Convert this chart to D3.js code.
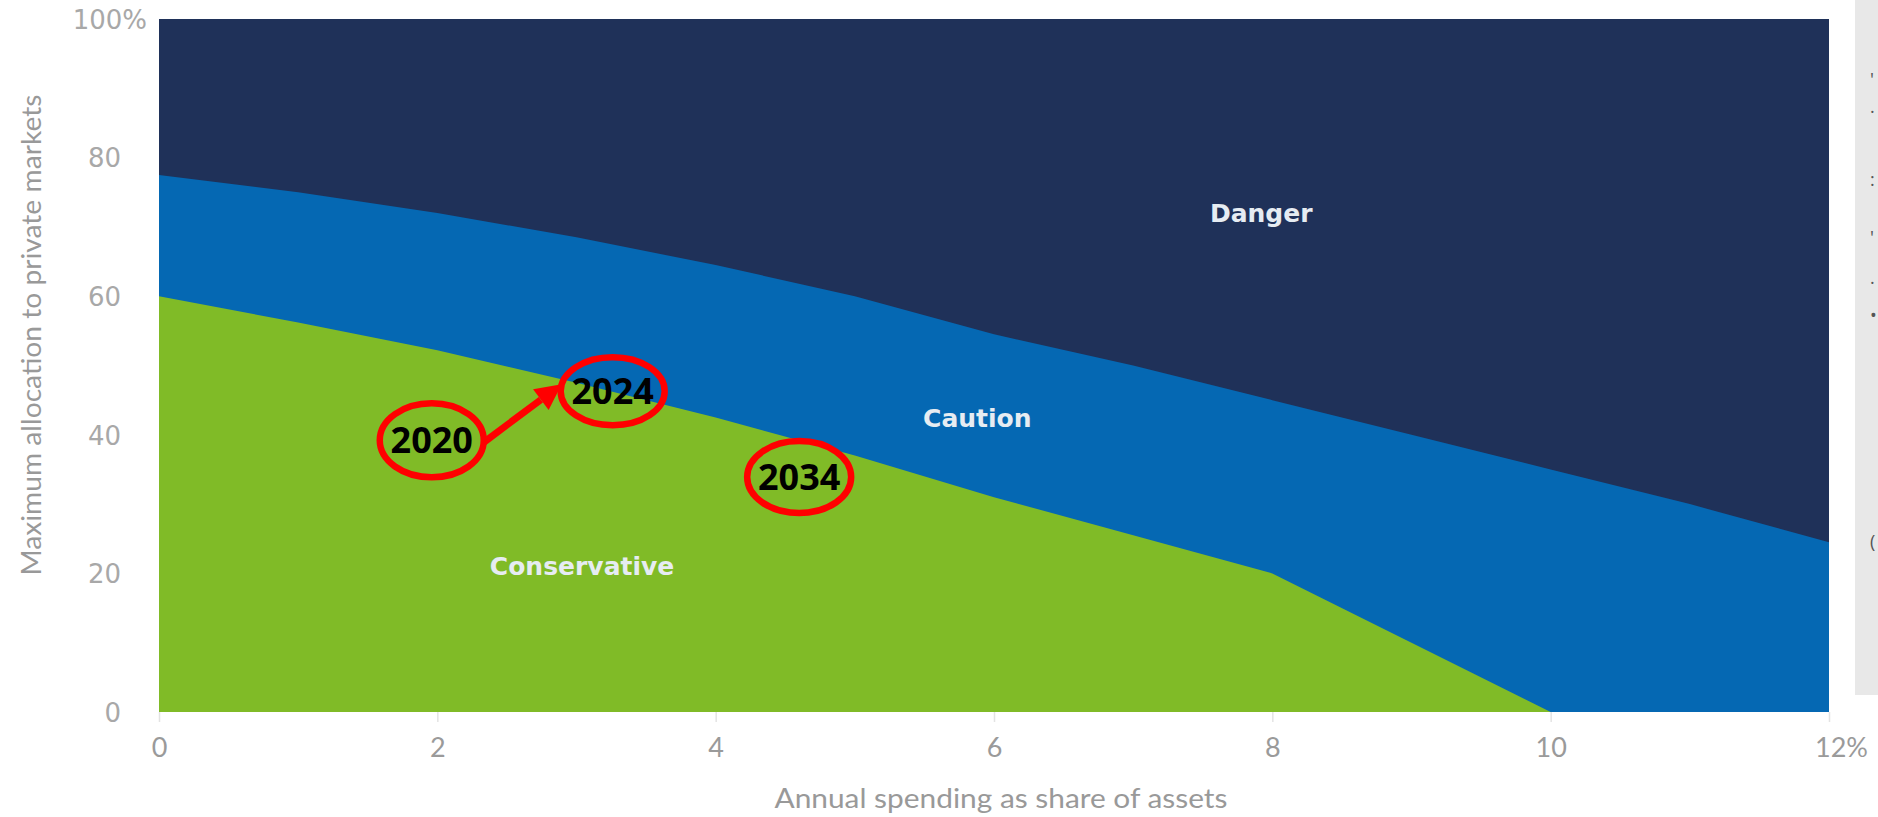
<!DOCTYPE html>
<html>
<head>
<meta charset="utf-8">
<script src="https://cdn.jsdelivr.net/npm/d3@7"></script>
<style>
  html, body { margin: 0; padding: 0; background: #fff; }
  svg { display: block; }
</style>
</head>
<body>
<svg id="chart" width="1878" height="817"></svg>
<script>
// ---- data ----
const spending = [0, 1, 2, 3, 4, 5, 6, 7, 8, 9, 10, 11, 12];            // % of assets
const conservativeMax = [60, 56.2, 52.2, 47.5, 42.5, 37, 31, 25.5, 20, 10, 0, 0, 0];
const cautionMax = [77.5, 75, 72, 68.5, 64.5, 60, 54.5, 50, 45, 40, 35, 30, 24.5];
const dangerMax = [100, 100, 100, 100, 100, 100, 100, 100, 100, 100, 100, 100, 100];
const xTicks = [0, 2, 4, 6, 8, 10, 12];
const yTicks = [0, 20, 40, 60, 80, 100];
const zoneLabels = ["Danger", "Caution", "Conservative"];
const zoneLabelPos = [[7.92, 72], [5.88, 42.4], [3.04, 21]];
const yearLabels = ["2020", "2024", "2034"];
const yearPos = [[1.96, 39.2], [3.26, 46.3], [4.6, 33.9]];

// ---- layout ----
const svg = d3.select("#chart");
const x = d3.scaleLinear().domain([0, 12]).range([159, 1829]);
const y = d3.scaleLinear().domain([0, 100]).range([712, 19]);

// right grey panel (cropped page edge)
svg.append("rect").attr("x", 1855).attr("y", 0).attr("width", 30).attr("height", 695).attr("fill", "#e8e8e8");
const frag = [["'", 86], ["·", 118], [":", 186], ["'", 244], [".", 284], ["•", 322], ["(", 548]];
svg.append("g").selectAll("text").data(frag).join("text")
  .attr("x", 1870).attr("y", d => d[1]).text(d => d[0])
  .attr("font-family", "Open Sans").attr("font-size", 18).attr("fill", "#555");

// cumulative bands drawn back to front (each filled from 0 up to its upper bound)
const layers = [
  { hi: dangerMax, color: "#1f3159" },
  { hi: cautionMax, color: "#0568b3" },
  { hi: conservativeMax, color: "#80bb27" }
];
const area = hi => d3.area()
  .x((d, i) => x(spending[i]))
  .y0(() => y(0))
  .y1((d, i) => y(hi[i]))
  .curve(d3.curveLinear)(spending);
svg.append("g").selectAll("path").data(layers).join("path")
  .attr("d", d => area(d.hi))
  .attr("fill", d => d.color);

// ---- axes ----
const xAxis = svg.append("g").attr("transform", `translate(0,${y(0)})`)
  .call(d3.axisBottom(x).tickValues(xTicks).tickSize(10).tickPadding(16)
    .tickFormat(d => d === 12 ? "12%" : d));
xAxis.select(".domain").remove();
xAxis.selectAll("line").attr("stroke", "#e3e3e3").attr("stroke-width", 1.5);
xAxis.selectAll("text").attr("font-family", "Lato, 'Open Sans', sans-serif")
  .attr("font-size", 27).attr("fill", "#9a9a9a")
  .attr("dx", d => d === 12 ? 12 : 0);

const yAxis = svg.append("g").attr("transform", `translate(121,0)`)
  .call(d3.axisLeft(y).tickValues(yTicks).tickSize(0).tickPadding(0)
    .tickFormat(d => d === 100 ? "100%" : d));
yAxis.select(".domain").remove();
yAxis.selectAll("text").attr("font-family", "'DejaVu Sans', sans-serif")
  .attr("font-size", 26).attr("fill", "#a8a8a8")
  .attr("dx", d => d === 100 ? 26 : 0).attr("dy", "0.36em");

svg.append("text").attr("x", 1001).attr("y", 808).attr("text-anchor", "middle")
  .attr("font-family", "Lato, sans-serif").attr("font-size", 26).attr("fill", "#999")
  .attr("textLength", 453).attr("lengthAdjust", "spacingAndGlyphs")
  .text("Annual spending as share of assets");
svg.append("text").attr("transform", "translate(41,335) rotate(-90)").attr("text-anchor", "middle")
  .attr("font-family", "Lato, sans-serif").attr("font-size", 26).attr("fill", "#999")
  .attr("textLength", 481).attr("lengthAdjust", "spacingAndGlyphs")
  .text("Maximum allocation to private markets");

// ---- zone labels ----
svg.append("g").selectAll("text").data(zoneLabels).join("text")
  .attr("x", (d, i) => x(zoneLabelPos[i][0])).attr("y", (d, i) => y(zoneLabelPos[i][1]))
  .attr("text-anchor", "middle").attr("dy", "0.35em")
  .attr("font-family", "'DejaVu Sans', sans-serif").attr("font-weight", 700)
  .attr("font-size", 25).attr("fill", "#e6ecf2")
  .text(d => d);

// ---- annotations ----
const ann = svg.append("g");
ann.selectAll("ellipse").data(yearLabels).join("ellipse")
  .attr("cx", (d, i) => x(yearPos[i][0])).attr("cy", (d, i) => y(yearPos[i][1]))
  .attr("rx", 52).attr("ry", (d, i) => [37, 34, 36][i])
  .attr("fill", "none").attr("stroke", "#ff0000").attr("stroke-width", 6.5);
ann.selectAll("text").data(yearLabels).join("text")
  .attr("x", (d, i) => x(yearPos[i][0])).attr("y", (d, i) => y(yearPos[i][1]))
  .attr("text-anchor", "middle").attr("dy", "0.36em")
  .attr("font-family", "'Open Sans', sans-serif").attr("font-weight", 700)
  .attr("font-size", 36).attr("fill", "#000")
  .text(d => d);

// arrow from 2020 to 2024
const a0 = [x(yearPos[0][0]) + 52, y(yearPos[0][1]) + 2];
const a1 = [x(yearPos[1][0]) - 51, y(yearPos[1][1]) - 7];
const ang = Math.atan2(a1[1] - a0[1], a1[0] - a0[0]);
const headL = 26, headW = 13;
const base = [a1[0] - headL * Math.cos(ang), a1[1] - headL * Math.sin(ang)];
ann.append("line").attr("x1", a0[0]).attr("y1", a0[1]).attr("x2", base[0]).attr("y2", base[1])
  .attr("stroke", "#ff0000").attr("stroke-width", 7);
ann.append("path")
  .attr("d", d3.line()([
    a1,
    [base[0] + headW * Math.sin(ang), base[1] - headW * Math.cos(ang)],
    [base[0] - headW * Math.sin(ang), base[1] + headW * Math.cos(ang)]
  ]) + "Z")
  .attr("fill", "#ff0000");
</script>
</body>
</html>
